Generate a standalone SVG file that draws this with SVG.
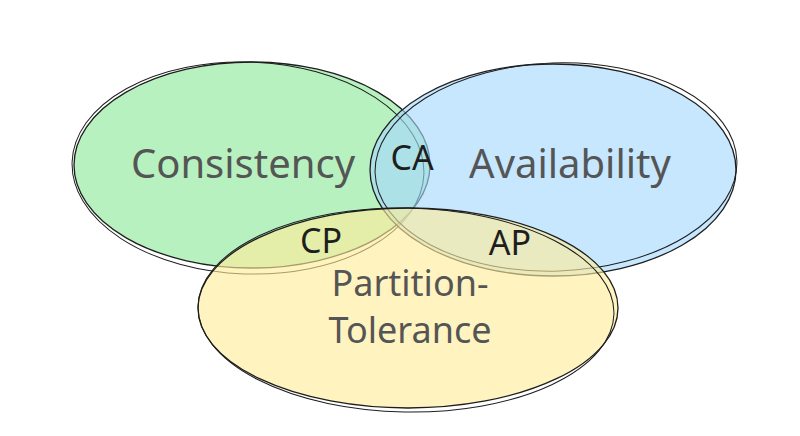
<svg xmlns="http://www.w3.org/2000/svg" width="800" height="436" viewBox="0 0 800 436">
<style>
.set{stroke:#1e1e1e;stroke-width:1.3;fill-opacity:0.62}
.sk{fill:none;stroke:#1e1e1e;stroke-width:1}
.lbl{font-family:"Noto Sans",sans-serif;font-size:40px;fill:#555;text-anchor:middle}
.lbl2{font-family:"Noto Sans",sans-serif;font-size:36px;fill:#555;text-anchor:middle}
.int{font-family:"Noto Sans",sans-serif;font-size:34px;fill:#1e1e1e;text-anchor:middle}
</style>
<rect width="800" height="436" fill="#fff"/>
<g id="consistency">
<ellipse class="set" cx="252" cy="165" rx="178" ry="103" fill="#8ce99a"/>
<ellipse class="sk" cx="248" cy="168" rx="176" ry="106" transform="rotate(2 248 168)"/>
</g>
<g id="availability">
<ellipse class="set" cx="553" cy="170" rx="183" ry="106" fill="#a5d8ff"/>
<ellipse class="sk" cx="556" cy="167" rx="181" ry="104" transform="rotate(-2 556 167)"/>
</g>
<g id="partition">
<ellipse class="set" cx="408" cy="308" rx="210" ry="100" fill="#ffec99"/>
<ellipse class="sk" cx="406" cy="310" rx="208" ry="102" transform="rotate(1 406 310)"/>
</g>
<g id="labels">
<text class="lbl" x="243" y="178">Consistency</text>
<text class="lbl" x="570" y="178">Availability</text>
<text class="lbl2" x="410" y="296">Partition-</text>
<text class="lbl2" x="410" y="343">Tolerance</text>
<text class="int" x="412" y="170">CA</text>
<text class="int" x="321" y="253">CP</text>
<text class="int" x="510" y="255">AP</text>
</g>
</svg>
